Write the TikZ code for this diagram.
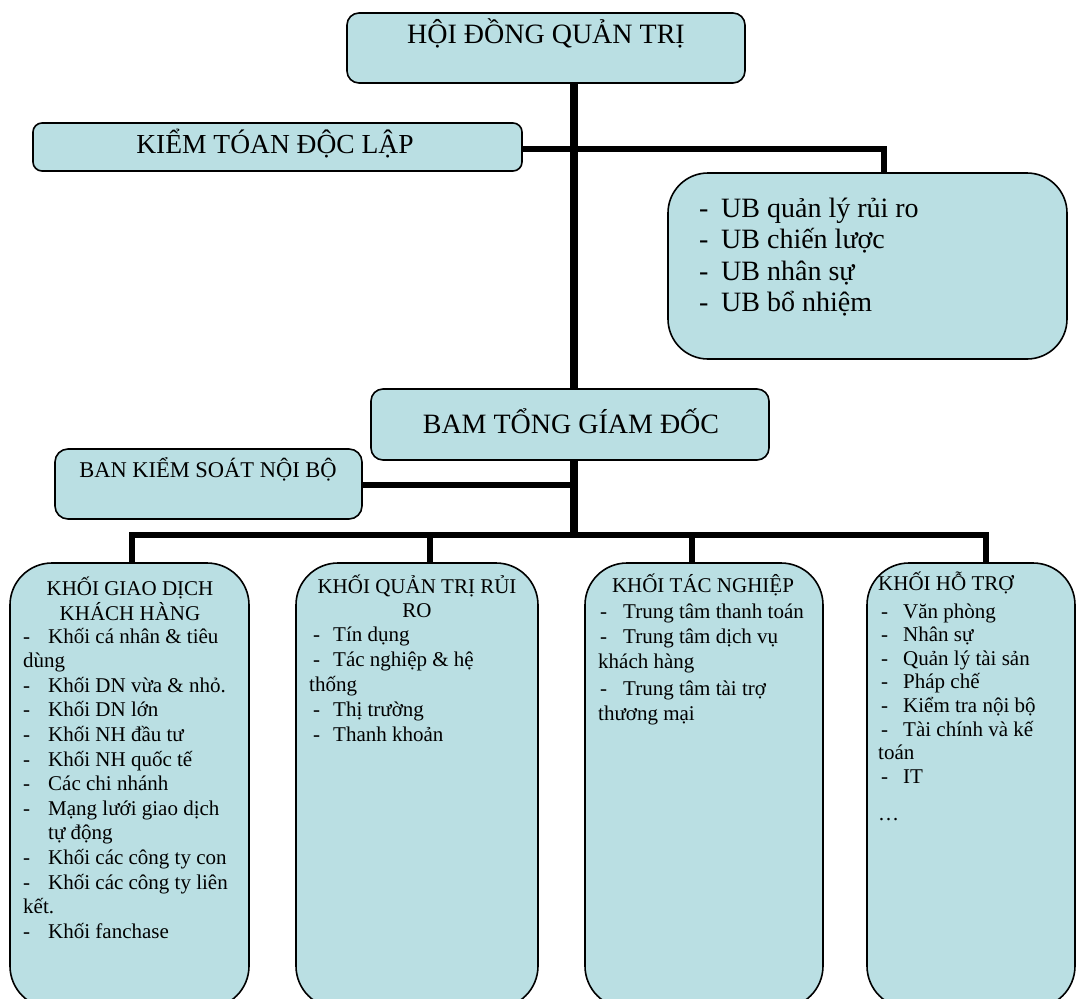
\documentclass[tikz,border=0pt]{standalone}
\usepackage{fontspec}
\setmainfont{Liberation Serif}
\usetikzlibrary{backgrounds}
\definecolor{boxfill}{RGB}{186,223,227}
% left-aligned stack of lines with a fixed baseline distance
\newcommand\rowsL[2]{\vtop{\baselineskip=#1\lineskiplimit=-\maxdimen\lineskip=0pt\halign{##\hfil\cr#2\crcr}}}
% centred stack of lines with a fixed baseline distance
\newcommand\rowsC[2]{\vtop{\baselineskip=#1\lineskiplimit=-\maxdimen\lineskip=0pt\halign{\hfil##\hfil\cr#2\crcr}}}
% dash item: box width, dash offset, text
\newcommand\dl[3]{\makebox[#1][l]{\hspace*{#2}-}#3}
\tikzset{
  box/.style={draw=black, line width=1.6pt, fill=boxfill, rounded corners=#1, inner sep=0pt},
  txt/.style={inner sep=0pt, font=\fontsize{#1}{#1}\selectfont},
  link/.style={line width=5.5pt, line join=miter},
  spine/.style={line width=8pt},
}
\begin{document}
\begin{tikzpicture}[x=1pt, y=-1pt]
\useasboundingbox (0,0) rectangle (1077,999);
\clip (0,0) rectangle (1077,999);

% boxes
\node[box=12pt, minimum width=398pt, minimum height=70pt] (hdqt) at (546,48) {};
\node[box=9pt, minimum width=489pt, minimum height=48pt] (ktdl) at (277.5,147) {};
\node[box=40pt, minimum width=399pt, minimum height=186pt] (ub) at (867.5,266) {};
\node[box=12pt, minimum width=398pt, minimum height=71pt] (bam) at (570,424.5) {};
\node[box=13pt, minimum width=307pt, minimum height=70pt] (bks) at (208.5,484) {};
\node[box=42pt, minimum width=239pt, minimum height=445pt] (k1) at (129.5,785.5) {};
\node[box=42pt, minimum width=242pt, minimum height=445pt] (k2) at (417,785.5) {};
\node[box=42pt, minimum width=238pt, minimum height=445pt] (k3) at (704,785.5) {};
\node[box=42pt, minimum width=208pt, minimum height=445pt] (k4) at (971,785.5) {};

% junction points of the connectors
\coordinate (sp) at (574,0);
\coordinate (jub) at (884,149);
\coordinate (jbk) at (574,485);
\coordinate (bus) at (574,535);
\coordinate (b1) at (132,535);
\coordinate (b2) at (430,535);
\coordinate (b3) at (692,535);
\coordinate (b4) at (986,535);

% connectors
\begin{scope}[on background layer]
  \draw[spine] (hdqt.south -| sp) -- (bam.north -| sp);
  \draw[link] (ktdl.east |- jub) -- (jub) -- (jub |- ub.north);
  \draw[link] (bks.east |- jbk) -- (jbk);
  \draw[spine] (bam.south -| sp) -- (bus);
  \draw[link] (k1.north -| b1) -- (b1) -- (b4) -- (k4.north -| b4);
  \draw[link] (b2) -- (k2.north -| b2);
  \draw[link] (b3) -- (k3.north -| b3);
\end{scope}

% upper texts
\node[txt=28pt, anchor=base] (hdqt-t) at (546,43) {HỘI ĐỒNG QUẢN TRỊ};
\node[txt=27.5pt, anchor=base] (ktdl-t) at (275,153) {KIỂM TÓAN ĐỘC LẬP};
\node[txt=28pt, anchor=base] (bam-t) at (571,433) {BAM TỔNG GÍAM ĐỐC};
\node[txt=22.5pt, anchor=base] (bks-t) at (208,477) {BAN KIỂM SOÁT NỘI BỘ};
\node[txt=28pt, anchor=base west] (ub-t) at (699,217) {\rowsL{31.6pt}{%
  \dl{22pt}{0pt}{UB quản lý rủi ro}\cr
  \dl{22pt}{0pt}{UB chiến lược}\cr
  \dl{22pt}{0pt}{UB nhân sự}\cr
  \dl{22pt}{0pt}{UB bổ nhiệm}}};

% KHỐI GIAO DỊCH KHÁCH HÀNG
\node[txt=21pt, anchor=base] (k1-t) at (130,595) {\rowsC{25pt}{KHỐI GIAO DỊCH\cr KHÁCH HÀNG}};
\node[txt=21pt, anchor=base west] (k1-l) at (23,643) {\rowsL{24.6pt}{%
  \dl{25pt}{0pt}{Khối cá nhân \& tiêu}\cr
  dùng\cr
  \dl{25pt}{0pt}{Khối DN vừa \& nhỏ.}\cr
  \dl{25pt}{0pt}{Khối DN lớn}\cr
  \dl{25pt}{0pt}{Khối NH đầu tư}\cr
  \dl{25pt}{0pt}{Khối NH quốc tế}\cr
  \dl{25pt}{0pt}{Các chi nhánh}\cr
  \dl{25pt}{0pt}{Mạng lưới giao dịch}\cr
  \hspace*{25pt}tự động\cr
  \dl{25pt}{0pt}{Khối các công ty con}\cr
  \dl{25pt}{0pt}{Khối các công ty liên}\cr
  kết.\cr
  \dl{25pt}{0pt}{Khối fanchase}}};

% KHỐI QUẢN TRỊ RỦI RO
\node[txt=21pt, anchor=base] (k2-t) at (417,593) {\rowsC{24pt}{KHỐI QUẢN TRỊ RỦI\cr RO}};
\node[txt=21pt, anchor=base west] (k2-l) at (309,641) {\rowsL{25pt}{%
  \dl{24pt}{4pt}{Tín dụng}\cr
  \dl{24pt}{4pt}{Tác nghiệp \& hệ}\cr
  thống\cr
  \dl{24pt}{4pt}{Thị trường}\cr
  \dl{24pt}{4pt}{Thanh khoản}}};

% KHỐI TÁC NGHIỆP
\node[txt=21pt, anchor=base] (k3-t) at (703,592) {KHỐI TÁC NGHIỆP};
\node[txt=21pt, anchor=base west] (k3-l) at (598,618) {\rowsL{25pt}{%
  \dl{25pt}{2pt}{Trung tâm thanh toán}\cr
  \dl{25pt}{2pt}{Trung tâm dịch vụ}\cr
  khách hàng\cr\noalign{\vskip2pt}
  \dl{25pt}{2pt}{Trung tâm tài trợ}\cr
  thương mại}};

% KHỐI HỖ TRỢ
\node[txt=21pt, anchor=base west] (k4-t) at (878,590) {KHỐI HỖ TRỢ};
\node[txt=21pt, anchor=base west] (k4-l) at (878,618) {\rowsL{23.6pt}{%
  \dl{25pt}{3pt}{Văn phòng}\cr
  \dl{25pt}{3pt}{Nhân sự}\cr
  \dl{25pt}{3pt}{Quản lý tài sản}\cr
  \dl{25pt}{3pt}{Pháp chế}\cr
  \dl{25pt}{3pt}{Kiểm tra nội bộ}\cr
  \dl{25pt}{3pt}{Tài chính và kế}\cr
  toán\cr
  \dl{25pt}{3pt}{IT}\cr\noalign{\vskip13.4pt}
  …}};
\end{tikzpicture}
\end{document}
